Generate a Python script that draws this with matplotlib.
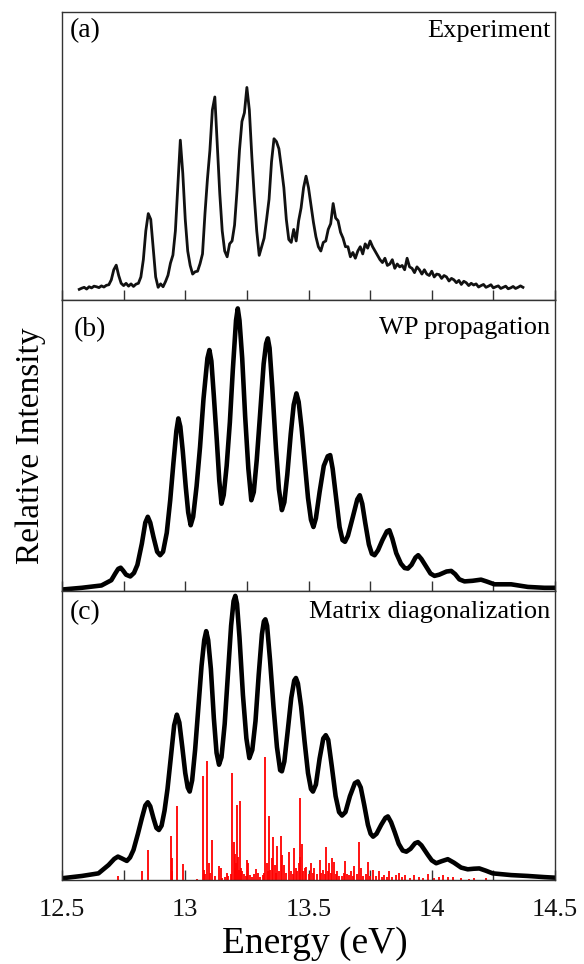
import numpy as np
import matplotlib
matplotlib.use("Agg")
import matplotlib.pyplot as plt
from matplotlib.ticker import MultipleLocator, FuncFormatter

plt.rcParams['font.family'] = ['Liberation Serif', 'DejaVu Serif']

# ---------------- data ----------------
# (a) experiment, sampled every 0.01 eV from 12.57 to 14.37
exp_energy = np.round(np.arange(12.57, 14.3751, 0.01), 2)
exp_intensity = [
    3.7, 4.1, 4.4, 3.8, 4.6, 4.2, 4.8, 4.6, 4.3, 4.9,
    4.5, 5.1, 5.3, 7.0, 10.5, 12.1, 8.5, 5.8, 5.0, 5.8,
    4.8, 5.6, 4.7, 5.5, 5.8, 8.0, 14.0, 24.0, 30.0, 28.0,
    18.0, 8.0, 4.4, 5.6, 4.6, 6.4, 8.6, 12.8, 15.6, 24.0,
    40.0, 55.5, 44.0, 28.0, 17.0, 12.0, 9.0, 9.8, 10.0, 12.6,
    16.0, 30.0, 42.0, 52.0, 66.0, 70.5, 54.0, 37.0, 24.0, 17.0,
    15.0, 19.5, 20.5, 26.0, 38.0, 52.0, 62.0, 65.0, 73.8, 66.0,
    50.0, 36.0, 24.0, 15.5, 18.5, 21.5, 28.0, 35.0, 48.0, 56.0,
    55.0, 52.5, 46.0, 39.0, 28.0, 21.0, 20.0, 24.5, 20.5, 27.5,
    32.0, 39.0, 43.0, 39.0, 33.0, 27.0, 22.0, 18.5, 17.0, 20.0,
    20.5, 24.5, 26.5, 33.5, 28.5, 27.5, 23.5, 21.5, 18.5, 18.5,
    15.0, 16.5, 14.5, 17.0, 18.5, 16.0, 19.5, 18.0, 20.5, 18.5,
    17.0, 15.5, 14.0, 13.0, 14.5, 12.0, 12.5, 14.0, 11.0, 12.5,
    11.5, 12.0, 10.5, 14.5, 11.5, 11.0, 9.5, 11.5, 10.5, 9.0,
    10.5, 9.0, 8.5, 10.0, 8.0, 9.0, 8.8, 7.5, 8.5, 8.0,
    6.6, 7.5, 7.0, 6.0, 6.8, 5.4, 6.5, 6.0, 5.0, 5.8,
    5.2, 5.6, 4.5, 5.0, 5.4, 4.4, 4.8, 5.3, 4.2, 4.6,
    4.9, 4.0, 4.4, 4.8, 3.9, 4.2, 4.7, 4.0, 4.4, 4.9,
    4.4,
]

# (b) wave-packet propagation
wp_energy = [12.50, 12.58, 12.66, 12.70, 12.716, 12.728, 12.738, 12.748, 12.760, 12.777,
             12.792, 12.806, 12.824, 12.838, 12.848, 12.858, 12.871, 12.886, 12.898, 12.910,
             12.925, 12.939, 12.952, 12.964, 12.972, 12.980, 12.990, 13.002, 13.012, 13.022,
             13.032, 13.046, 13.060, 13.074, 13.090, 13.098, 13.106, 13.116, 13.128, 13.138,
             13.147, 13.156, 13.168, 13.181, 13.193, 13.206, 13.213, 13.220, 13.231, 13.243,
             13.256, 13.268, 13.278, 13.290, 13.303, 13.318, 13.328, 13.335, 13.342, 13.353,
             13.368, 13.380, 13.392, 13.402, 13.414, 13.428, 13.440, 13.451, 13.460, 13.472,
             13.485, 13.498, 13.510, 13.520, 13.530, 13.545, 13.562, 13.578, 13.588, 13.598,
             13.612, 13.626, 13.638, 13.648, 13.660, 13.680, 13.698, 13.708, 13.718, 13.730,
             13.745, 13.757, 13.768, 13.782, 13.800, 13.818, 13.828, 13.840, 13.856, 13.875,
             13.890, 13.903, 13.918, 13.934, 13.945, 13.958, 13.978, 13.995, 14.011, 14.030,
             14.060, 14.079, 14.095, 14.112, 14.133, 14.165, 14.200, 14.225, 14.254, 14.322,
             14.390, 14.457, 14.50]
wp_intensity = [0.5, 1.1, 1.9, 3.7, 6.0, 7.6, 8.0, 7.0, 5.6, 5.0,
                6.2, 9.0, 16.3, 23.5, 25.5, 23.5, 18.6, 13.5, 12.3, 13.5,
                20.0, 31.2, 44.0, 55.0, 59.3, 56.5, 48.0, 35.8, 27.0, 22.6,
                25.5, 36.0, 49.5, 66.0, 80.0, 82.8, 79.0, 67.0, 51.8, 38.0,
                30.0, 33.0, 43.0, 58.0, 76.0, 93.0, 97.1, 93.0, 80.0, 60.0,
                42.0, 31.2, 34.0, 45.0, 60.0, 78.0, 85.0, 86.8, 83.5, 70.0,
                49.0, 35.0, 27.8, 30.5, 40.0, 54.0, 64.0, 67.9, 65.0, 56.0,
                44.0, 32.0, 24.5, 22.0, 25.0, 34.0, 43.0, 46.3, 46.7, 42.0,
                32.0, 22.0, 17.5, 16.9, 19.0, 25.5, 31.5, 32.9, 30.0, 23.5,
                16.0, 12.8, 12.3, 14.0, 17.5, 20.5, 20.9, 18.0, 13.0, 9.4,
                7.9, 7.7, 9.0, 11.5, 12.3, 11.0, 8.3, 6.0, 5.2, 5.6,
                6.7, 6.9, 5.8, 4.0, 3.3, 3.5, 3.9, 3.2, 2.3, 2.3,
                1.4, 1.1, 1.1]

# (c) matrix diagonalization envelope
md_energy = [12.50, 12.581, 12.648, 12.689, 12.712, 12.727, 12.742, 12.763, 12.776, 12.790,
             12.808, 12.824, 12.838, 12.848, 12.858, 12.871, 12.883, 12.893, 12.904, 12.916,
             12.928, 12.941, 12.955, 12.966, 12.976, 12.988, 13.000, 13.010, 13.018, 13.028,
             13.040, 13.053, 13.066, 13.077, 13.085, 13.093, 13.104, 13.116, 13.127, 13.137,
             13.147, 13.160, 13.173, 13.186, 13.196, 13.203, 13.210, 13.220, 13.234, 13.248,
             13.260, 13.272, 13.285, 13.298, 13.311, 13.319, 13.325, 13.332, 13.344, 13.358,
             13.372, 13.385, 13.392, 13.402, 13.415, 13.430, 13.442, 13.449, 13.457, 13.470,
             13.484, 13.498, 13.510, 13.518, 13.530, 13.545, 13.560, 13.570, 13.580, 13.595,
             13.610, 13.624, 13.636, 13.650, 13.668, 13.688, 13.700, 13.712, 13.726, 13.741,
             13.752, 13.762, 13.776, 13.795, 13.812, 13.822, 13.835, 13.850, 13.866, 13.882,
             13.897, 13.914, 13.932, 13.944, 13.958, 13.984, 14.000, 14.018, 14.040, 14.065,
             14.090, 14.119, 14.146, 14.170, 14.193, 14.220, 14.247, 14.322, 14.389, 14.457,
             14.50]
md_intensity = [0.6, 1.4, 2.3, 5.2, 7.3, 8.1, 7.5, 6.6, 7.8, 10.4,
                16.0, 21.4, 25.8, 26.9, 25.5, 21.4, 18.0, 17.3, 18.8, 24.0,
                31.5, 42.0, 53.5, 57.2, 54.5, 46.0, 37.0, 32.0, 30.6, 34.5,
                45.0, 59.5, 74.0, 83.0, 86.1, 83.0, 73.0, 56.0, 44.0, 39.9,
                42.5, 54.0, 71.0, 88.0, 96.5, 98.3, 95.5, 84.0, 64.0, 49.0,
                42.2, 45.0, 55.0, 71.0, 85.0, 89.5, 90.2, 88.0, 76.0, 60.0,
                46.0, 38.0, 37.6, 41.0, 51.0, 63.0, 69.0, 69.9, 68.0, 60.0,
                48.0, 37.0, 31.5, 30.6, 33.0, 42.0, 49.0, 50.1, 48.5, 39.0,
                29.0, 23.5, 22.3, 23.5, 29.0, 33.5, 34.1, 32.0, 26.0, 19.1,
                16.0, 15.0, 16.0, 19.1, 21.5, 22.0, 20.0, 16.5, 12.5, 10.2,
                9.8, 10.8, 12.7, 13.1, 12.0, 8.7, 6.8, 5.8, 6.5, 7.2,
                6.0, 4.3, 3.7, 3.9, 4.0, 3.2, 2.3, 1.7, 1.4, 1.0,
                0.8]

# (c) stick spectrum (eigenstates)
stick_energy = [12.728, 12.823, 12.849, 12.941, 12.945, 12.948, 12.968, 12.989, 13.049, 13.070,
                13.076, 13.082, 13.090, 13.095, 13.100, 13.108, 13.120, 13.136, 13.144, 13.150,
                13.160, 13.169, 13.175, 13.184, 13.190, 13.196, 13.200, 13.203, 13.207, 13.211,
                13.215, 13.219, 13.223, 13.228, 13.232, 13.240, 13.246, 13.250, 13.256, 13.262,
                13.270, 13.280, 13.288, 13.295, 13.305, 13.315, 13.320, 13.325, 13.330, 13.335,
                13.339, 13.345, 13.351, 13.358, 13.364, 13.368, 13.372, 13.380, 13.387, 13.393,
                13.400, 13.410, 13.419, 13.428, 13.436, 13.443, 13.450, 13.455, 13.460, 13.464,
                13.467, 13.473, 13.478, 13.484, 13.490, 13.500, 13.511, 13.518, 13.524, 13.533,
                13.545, 13.552, 13.558, 13.565, 13.572, 13.578, 13.585, 13.590, 13.596, 13.605,
                13.610, 13.615, 13.625, 13.635, 13.643, 13.650, 13.657, 13.663, 13.672, 13.680,
                13.686, 13.695, 13.704, 13.713, 13.722, 13.732, 13.740, 13.750, 13.763, 13.775,
                13.787, 13.797, 13.807, 13.818, 13.828, 13.840, 13.855, 13.868, 13.880, 13.893,
                13.910, 13.930, 13.948, 13.965, 13.983, 14.010, 14.030, 14.044, 14.064, 14.085,
                14.118, 14.150, 14.172, 14.219]
stick_height = [1.5, 3.1, 10.4, 15.3, 3.0, 7.5, 25.7, 5.4, 0.5, 35.9,
                3.5, 2.0, 41.1, 6.0, 2.5, 13.7, 1.5, 4.9, 4.1, 0.8,
                1.2, 2.5, 1.5, 2.0, 37.0, 13.3, 9.0, 4.0, 6.0, 26.0,
                8.0, 3.5, 27.4, 4.0, 3.0, 2.0, 1.5, 6.9, 5.8, 1.7,
                1.0, 2.0, 3.8, 2.3, 1.2, 1.8, 2.5, 42.6, 6.0, 3.0,
                22.0, 3.5, 7.6, 15.0, 5.3, 2.5, 11.6, 3.0, 15.3, 8.5,
                5.3, 2.5, 9.8, 3.0, 2.0, 10.9, 4.0, 3.0, 6.0, 28.3,
                8.0, 12.4, 3.0, 4.3, 4.6, 2.0, 5.8, 2.5, 4.1, 2.0,
                6.9, 2.5, 3.5, 2.0, 11.3, 3.0, 5.8, 2.5, 7.5, 6.4,
                2.0, 3.0, 1.5, 1.3, 2.5, 6.6, 2.0, 1.7, 3.0, 1.5,
                4.9, 2.0, 13.0, 4.0, 1.5, 2.0, 6.3, 1.5, 3.5, 1.5,
                3.1, 1.2, 1.7, 1.2, 3.0, 1.0, 1.6, 2.3, 1.0, 1.7,
                0.8, 1.7, 1.2, 0.8, 2.0, 0.6, 1.2, 1.7, 1.2, 1.2,
                0.8, 0.5, 0.6, 0.8]

panel_tags = ["(a)", "(b)", "(c)"]
panel_titles = ["Experiment", "WP propagation", "Matrix diagonalization"]
x_min, x_max = 12.5, 14.5

# ---------------- figure ----------------
W, H = 584, 964
fig = plt.figure(figsize=(W / 100, H / 100), dpi=100)

left, right = 62 / W, 555 / W
bounds = [(12, 300), (300, 591), (591, 880)]
axes = []
for (top_px, bot_px) in bounds:
    ax = fig.add_axes([left, (H - bot_px) / H, right - left, (bot_px - top_px) / H])
    axes.append(ax)

spine_color = '#333333'
for i, ax in enumerate(axes):
    ax.set_xlim(x_min, x_max)
    ax.set_ylim(0, 100)
    ax.set_yticks([])
    for s in ax.spines.values():
        s.set_color(spine_color)
        s.set_linewidth(1.0)
    ax.xaxis.set_major_locator(MultipleLocator(0.5))
    ax.xaxis.set_minor_locator(MultipleLocator(0.25))
    ax.tick_params(axis='x', which='both', direction='in', length=7, width=1.0,
                   color=spine_color, top=False, bottom=True)
    if i < 2:
        ax.tick_params(axis='x', which='both', labelbottom=False)
    else:
        ax.xaxis.set_major_formatter(FuncFormatter(lambda v, p: '%g' % v))
        ax.tick_params(axis='x', which='major', labelsize=19, pad=14, labelcolor='#111111')

axes[0].plot(exp_energy, exp_intensity, color='#111111', lw=2.0)
axes[1].plot(wp_energy, wp_intensity, color='black', lw=3.3)
axes[2].vlines(stick_energy, 0, stick_height, color='#ff0000', lw=1.3)
axes[2].plot(md_energy, md_intensity, color='black', lw=3.3)

tag_pos = [(0.016, 0.979), (0.024, 0.94), (0.016, 0.967)]
title_pos = [(0.992, 0.972), (0.99, 0.94), (0.99, 0.967)]
for ax, tag, title, tp, ttp in zip(axes, panel_tags, panel_titles, tag_pos, title_pos):
    ax.text(tp[0], tp[1], tag, transform=ax.transAxes, ha='left', va='top', fontsize=20)
    ax.text(ttp[0], ttp[1], title, transform=ax.transAxes, ha='right', va='top', fontsize=19)

fig.text(31 / W, 1 - 446 / H, "Relative Intensity", rotation=90, ha='center', va='center',
         fontsize=24)
fig.text(315 / W, 1 - 926 / H, "Energy (eV)", ha='center', va='top', fontsize=27)

fig.savefig("out.png", dpi=100)
